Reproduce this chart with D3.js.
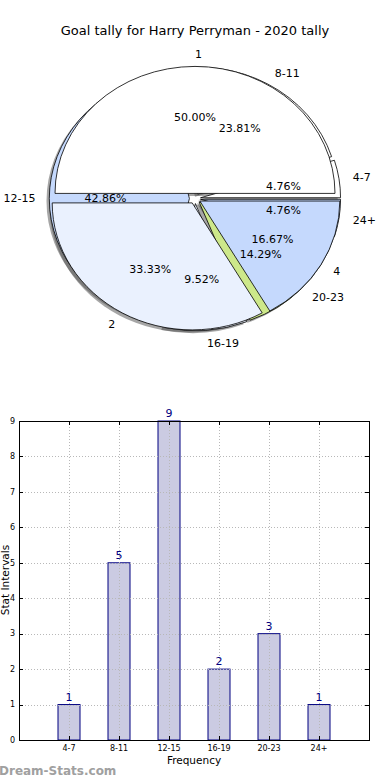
<!DOCTYPE html>
<html>
<head>
<meta charset="utf-8">
<script src="https://cdn.jsdelivr.net/npm/d3@7"></script>
<style>
  body { margin: 0; background: #fff; }
  svg { display: block; font-family: "DejaVu Sans", sans-serif; }
</style>
</head>
<body>
<script>
// pie: goal tally groups
const tallyLabels = ["1", "2", "4"];
const tallyValues = [3, 2, 1];
const tallyColors = ["#ffffff", "#eaf1fe", "#c5d9fd"];

// intervals (pie + bars)
const bins = ["4-7", "8-11", "12-15", "16-19", "20-23", "24+"];
const counts = [1, 5, 9, 2, 3, 1];
const binColors = ["#ffffff", "#ffffff", "#c5d9fd", "#eaf1fe", "#cde88a", "#c5d9fd"];

const yTicks = [0, 1, 2, 3, 4, 5, 6, 7, 8, 9];

var width = 390, height = 780;

var svg = d3.select("body")
    .append("svg")
    .attr("width", width)
    .attr("height", height);

svg.append("text")
    .attr("x", 195)
    .attr("y", 35)
    .attr("text-anchor", "middle")
    .style("font-size", "13px")
    .text("Goal tally for Harry Perryman - 2020 tally");

// ---- pie chart (two pies on top of each other, elliptical) ----
var cx = 195, cy = 198.5, rx = 140, ry = 127, explode = 0.04;

// matplotlib starts at 3 o'clock going counterclockwise
var pie = d3.pie().sort(null).startAngle(Math.PI / 2).endAngle(Math.PI / 2 - 2 * Math.PI);
var arc = d3.arc().innerRadius(0).outerRadius(1);

var pieA = pie(tallyValues).map(function (d, i) {
    return Object.assign(d, { label: tallyLabels[i], color: tallyColors[i], total: d3.sum(tallyValues) });
});
var pieB = pie(counts).map(function (d, i) {
    return Object.assign(d, { label: bins[i], color: binColors[i], total: d3.sum(counts) });
});

function mid(d) { return (d.startAngle + d.endAngle) / 2; }
function dir(d) { var m = mid(d); return [Math.sin(m), -Math.cos(m)]; }

var pieG = svg.append("g")
    .attr("transform", "translate(" + cx + "," + cy + ") scale(" + rx + "," + ry + ")");

function drawShadows(slices) {
    pieG.append("g")
        .selectAll("path")
        .data(slices)
        .enter().append("path")
        .attr("d", arc)
        .attr("transform", function (d) {
            var v = dir(d);
            return "translate(" + (v[0] * explode - 0.02) + "," + (v[1] * explode + 0.02) + ")";
        })
        .style("fill", "#4d4d4d")
        .style("fill-opacity", 0.5);
}

function drawWedges(slices) {
    pieG.append("g")
        .selectAll("path")
        .data(slices)
        .enter().append("path")
        .attr("d", arc)
        .attr("transform", function (d) {
            var v = dir(d);
            return "translate(" + (v[0] * explode) + "," + (v[1] * explode) + ")";
        })
        .attr("vector-effect", "non-scaling-stroke")
        .style("fill", function (d) { return d.color; })
        .style("stroke", "#000")
        .style("stroke-width", 0.8)
        .style("stroke-linejoin", "round");
}

drawShadows(pieB);
drawShadows(pieA);
drawWedges(pieB);
drawWedges(pieA);

function drawLabels(slices) {
    var g = svg.append("g").style("font-size", "11px");
    slices.forEach(function (d) {
        var v = dir(d);
        var lx = cx + rx * v[0] * (1.1 + explode);
        var ly = cy + ry * v[1] * (1.1 + explode);
        g.append("text")
            .attr("x", lx)
            .attr("y", ly)
            .attr("dy", "0.35em")
            .attr("text-anchor", v[0] >= -1e-9 ? "start" : "end")
            .text(d.label);
        var px = cx + rx * v[0] * (0.6 + explode);
        var py = cy + ry * v[1] * (0.6 + explode);
        g.append("text")
            .attr("x", px)
            .attr("y", py)
            .attr("dy", "0.35em")
            .attr("text-anchor", "middle")
            .text((100 * d.value / d.total).toFixed(2) + "%");
    });
}

drawLabels(pieB);
drawLabels(pieA);

// ---- bar chart ----
var plotLeft = 19, plotRight = 369, plotTop = 421, plotBottom = 740;

var x = d3.scaleLinear().domain([-1, 6]).range([plotLeft, plotRight]);
var y = d3.scaleLinear().domain([0, 9]).range([plotBottom, plotTop]);
var barW = 22;

var bars = svg.append("g");

bars.selectAll("rect")
    .data(counts)
    .enter().append("rect")
    .attr("x", function (d, i) { return x(i) - barW / 2; })
    .attr("y", function (d) { return y(d); })
    .attr("width", barW)
    .attr("height", function (d) { return y(0) - y(d); })
    .style("fill", "#cbcbe2")
    .style("stroke", "#000080")
    .style("stroke-width", 1);

// grid
var grid = svg.append("g")
    .style("stroke", "#b8b8b8")
    .style("stroke-width", 1)
    .style("stroke-dasharray", "1,2");

grid.selectAll("line.h")
    .data(yTicks.slice(1, -1))
    .enter().append("line")
    .attr("x1", plotLeft).attr("x2", plotRight)
    .attr("y1", function (d) { return Math.round(y(d)) + 0.5; })
    .attr("y2", function (d) { return Math.round(y(d)) + 0.5; });

grid.selectAll("line.v")
    .data(bins)
    .enter().append("line")
    .attr("x1", function (d, i) { return Math.round(x(i)) + 0.5; })
    .attr("x2", function (d, i) { return Math.round(x(i)) + 0.5; })
    .attr("y1", plotTop)
    .attr("y2", plotBottom);

// ticks (inward, all four sides)
var ticks = svg.append("g").style("stroke", "#000").style("stroke-width", 1);
yTicks.forEach(function (t) {
    var yy = Math.round(y(t)) + 0.5;
    ticks.append("line").attr("x1", plotLeft).attr("x2", plotLeft + 4).attr("y1", yy).attr("y2", yy);
    ticks.append("line").attr("x1", plotRight - 4).attr("x2", plotRight).attr("y1", yy).attr("y2", yy);
});
bins.forEach(function (b, i) {
    var xx = Math.round(x(i)) + 0.5;
    ticks.append("line").attr("x1", xx).attr("x2", xx).attr("y1", plotBottom).attr("y2", plotBottom - 4);
    ticks.append("line").attr("x1", xx).attr("x2", xx).attr("y1", plotTop).attr("y2", plotTop + 4);
});

// frame
svg.append("rect")
    .attr("x", plotLeft + 0.5)
    .attr("y", plotTop + 0.5)
    .attr("width", plotRight - plotLeft)
    .attr("height", plotBottom - plotTop)
    .style("fill", "none")
    .style("stroke", "#000")
    .style("stroke-width", 1);

// tick labels
svg.append("g")
    .style("font-size", "8px")
    .selectAll("text")
    .data(yTicks)
    .enter().append("text")
    .attr("x", plotLeft - 4)
    .attr("y", function (d) { return y(d); })
    .attr("dy", "0.35em")
    .attr("text-anchor", "end")
    .text(function (d) { return d; });

svg.append("g")
    .style("font-size", "8px")
    .selectAll("text")
    .data(bins)
    .enter().append("text")
    .attr("x", function (d, i) { return x(i); })
    .attr("y", plotBottom + 11)
    .attr("text-anchor", "middle")
    .text(function (d) { return d; });

// value labels
svg.append("g")
    .style("font-size", "11px")
    .style("fill", "#000080")
    .selectAll("text")
    .data(counts)
    .enter().append("text")
    .attr("x", function (d, i) { return x(i); })
    .attr("y", function (d) { return y(d) - 4; })
    .attr("text-anchor", "middle")
    .text(function (d) { return d; });

svg.append("text")
    .attr("x", 194)
    .attr("y", 764)
    .attr("text-anchor", "middle")
    .style("font-size", "10.5px")
    .text("Frequency");

svg.append("text")
    .attr("transform", "translate(9,580) rotate(-90)")
    .attr("text-anchor", "middle")
    .style("font-size", "10.5px")
    .text("Stat Intervals");

svg.append("text")
    .attr("x", -1)
    .attr("y", 775)
    .style("font-size", "12px")
    .style("font-weight", "bold")
    .style("fill", "#a0a0a0")
    .text("Dream-Stats.com");
</script>
</body>
</html>
